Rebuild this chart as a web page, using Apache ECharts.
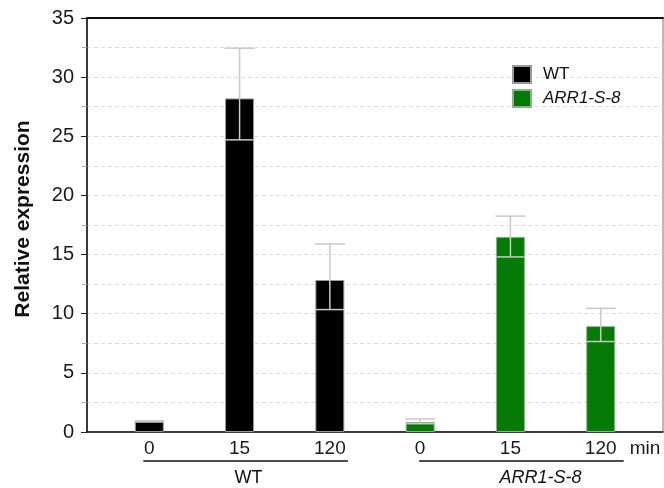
<!DOCTYPE html>
<html>
<head>
<meta charset="utf-8">
<script src="https://cdn.jsdelivr.net/npm/echarts@6/dist/echarts.min.js"></script>
<style>html,body{margin:0;padding:0;background:#fff}#c{width:664px;height:488px}</style>
</head>
<body>
<div id="c"></div>
<script>
// ---- data ----
const timeLabels = ['0', '15', '120', '0', '15', '120'];
const timeUnit = 'min';
const groups = ['WT', 'ARR1-S-8'];
const wtMean = [0.9, 28.2, 12.85];
const wtUpper = [0.95, 32.45, 15.9];
const wtLower = [0.85, 24.7, 10.35];
const arrMean = [0.85, 16.5, 8.95];
const arrUpper = [1.1, 18.25, 10.45];
const arrLower = [0.7, 14.8, 7.65];
const yTicks = [0, 5, 10, 15, 20, 25, 30, 35];

const FONT = '"Liberation Sans", Arial, sans-serif';
const chart = echarts.init(document.getElementById('c'));

const wtData = wtMean.map((v, i) => [i, v]);
const arrData = arrMean.map((v, i) => [i + 3, v]);
const errData = wtMean.map((v, i) => [i, v, wtUpper[i], wtLower[i]])
  .concat(arrMean.map((v, i) => [i + 3, v, arrUpper[i], arrLower[i]]));

const labelVals = timeLabels.map((t, i) => i);
const unitVal = timeLabels.length - 1 + 0.49;
const labelMap = {};
labelVals.forEach((v, i) => labelMap[v] = timeLabels[i]);
labelMap[unitVal] = timeUnit;

const xMin = -0.69, xMax = 5.69;

chart.setOption({
  animation: false,
  textStyle: { fontFamily: FONT },
  grid: { left: 87, right: 1, top: 18, bottom: 56, show: true, borderColor: '#777', borderWidth: 1 },
  legend: {
    orient: 'vertical', left: 507, top: 60, itemWidth: 18, itemHeight: 17, itemGap: 5,
    icon: 'rect',
    textStyle: { fontSize: 17, color: '#111', fontFamily: FONT, padding: [0, 0, 0, 7] },
    data: [{ name: groups[0] }, { name: groups[1], textStyle: { fontStyle: 'italic' } }]
  },
  xAxis: [{
    type: 'value', min: xMin, max: xMax, position: 'bottom',
    splitLine: { show: false },
    axisLine: { show: true, lineStyle: { color: '#111', width: 1.5 } },
    axisTick: { show: false },
    axisLabel: {
      customValues: labelVals.concat([unitVal]),
      formatter: v => labelMap[v] !== undefined ? labelMap[v] : '',
      fontSize: 19, color: '#1a1a1a', margin: 7
    }
  }, {
    type: 'value', min: xMin, max: xMax, position: 'top',
    splitLine: { show: false },
    axisLine: { show: true, onZero: false, lineStyle: { color: '#111', width: 2 } },
    axisTick: { show: false }, axisLabel: { show: false }
  }],
  yAxis: {
    type: 'value', min: 0, max: 35, interval: 5,
    name: 'Relative expression', nameLocation: 'middle', nameGap: 53, nameRotate: 90,
    nameTextStyle: { fontSize: 21, fontWeight: 'bold', color: '#111', padding: [0, 0, 0, 12] },
    axisLine: { show: true, onZero: false, lineStyle: { color: '#111', width: 1.5 } },
    axisTick: { show: true, length: 6, lineStyle: { color: '#222' } },
    minorTick: { show: true, splitNumber: 2, length: 5, lineStyle: { color: '#aaa' } },
    axisLabel: { fontSize: 20, color: '#1a1a1a', margin: 13,
      formatter: v => yTicks.indexOf(v) >= 0 ? String(v) : '' },
    splitLine: { show: true, lineStyle: { color: '#dcdcdc', type: [4, 3], width: 1 } },
    minorSplitLine: { show: true, lineStyle: { color: '#dcdcdc', type: [4, 3], width: 1 } }
  },
  series: [{
    name: groups[0], type: 'bar', data: wtData, barWidth: 29, barGap: '-100%',
    itemStyle: { color: '#000', borderColor: '#9a9a9a', borderWidth: 1 }
  }, {
    name: groups[1], type: 'bar', data: arrData, barWidth: 29, barGap: '-100%',
    itemStyle: { color: '#057a05', borderColor: '#8fb08f', borderWidth: 1 }
  }, {
    name: 'err', type: 'custom', data: errData, z: 5,
    encode: { x: 0, y: [1, 2, 3] },
    renderItem: function (params, api) {
      const x = api.value(0), m = api.value(1), u = api.value(2), l = api.value(3);
      const pm = api.coord([x, m]), pu = api.coord([x, u]), pl = api.coord([x, l]);
      const half = 15, inner = 14;
      const st = { stroke: '#c9c9c9', lineWidth: 1.5 };
      return {
        type: 'group', children: [
          { type: 'line', shape: { x1: pm[0], y1: pm[1], x2: pu[0], y2: pu[1] }, style: st },
          { type: 'line', shape: { x1: pu[0] - half, y1: pu[1], x2: pu[0] + half, y2: pu[1] }, style: st },
          { type: 'line', shape: { x1: pm[0], y1: pm[1], x2: pl[0], y2: pl[1] }, style: st },
          { type: 'line', shape: { x1: pl[0] - inner, y1: pl[1], x2: pl[0] + inner, y2: pl[1] }, style: st }
        ]
      };
    }
  }]
});

// group labels and underlines, positioned through the axis scale
function px(v) { return chart.convertToPixel({ xAxisIndex: 0 }, v); }
const lineY = 461, textY = 478;
const spans = [[0, 2], [3, 5]];
const graphics = [];
spans.forEach((s, gi) => {
  const x1 = px(s[0]) - 6 + (gi ? 5 : 0), x2 = px(s[1]) + 18 + (gi ? 5 : 0);
  graphics.push({ type: 'line', shape: { x1: x1, y1: lineY, x2: x2, y2: lineY },
    style: { stroke: '#111', lineWidth: 1.3 } });
  const cx = px((s[0] + s[1]) / 2) + (gi ? 30 : 9);
  graphics.push({ type: 'text', x: cx, y: textY,
    style: { text: groups[gi], fontSize: 18, fontFamily: FONT, fill: '#111',
      fontStyle: gi ? 'italic' : 'normal', align: 'center', verticalAlign: 'middle' } });
});
chart.setOption({ graphic: graphics });
</script>
</body>
</html>
